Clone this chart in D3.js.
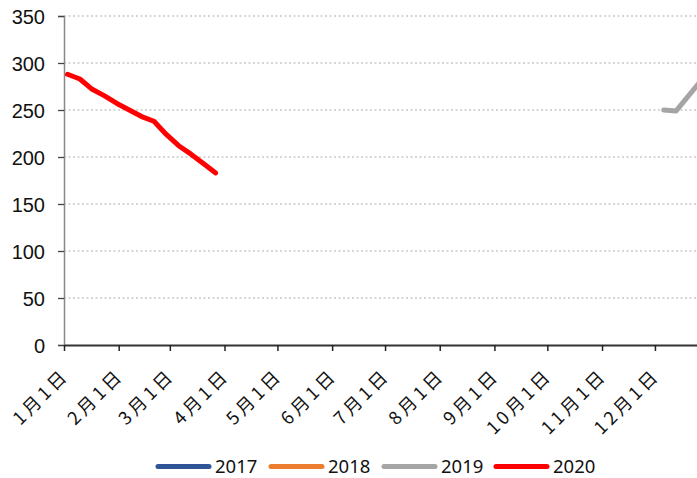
<!DOCTYPE html>
<html>
<head>
<meta charset="utf-8">
<script src="https://cdn.jsdelivr.net/npm/d3@7"></script>
<style>
  body { margin: 0; background: #fff; }
  svg { display: block; font-family: "Liberation Sans", Arial, sans-serif; }
</style>
</head>
<body>
<svg id="chart" width="697" height="478"></svg>
<script>
// series names and colours (legend order)
const years = ["2017", "2018", "2019", "2020"];
const colors = ["#2F5597", "#ED7D31", "#A5A5A5", "#FF0000"];

// weekly readings plotted on a common Jan-Dec axis (month/day only)
const dates2017 = [];
const values2017 = [];
const dates2018 = [];
const values2018 = [];
const dates2019 = ["12-06", "12-13", "12-20", "12-27"];
const values2019 = [250, 249, 265, 281];
const dates2020 = ["01-03", "01-10", "01-17", "01-24", "01-31", "02-07", "02-14",
                   "02-21", "02-28", "03-06", "03-13", "03-20", "03-27"];
const values2020 = [288, 283, 272, 265, 257, 250, 243, 238, 224, 212, 203, 193, 183];

const yTicks = [0, 50, 100, 150, 200, 250, 300, 350];
const monthLabels = ["1月1日", "2月1日", "3月1日", "4月1日", "5月1日", "6月1日",
                     "7月1日", "8月1日", "9月1日", "10月1日", "11月1日", "12月1日"];

const seriesDates = [dates2017, dates2018, dates2019, dates2020];
const seriesValues = [values2017, values2018, values2019, values2020];

const svg = d3.select("#chart");
const parse = d3.timeParse("%Y-%m-%d");
const plotLeft = 64, plotTop = 16, plotBottom = 345;

// axis runs a full (leap) year; it is wider than the window so the end is cut off
const x = d3.scaleTime()
  .domain([parse("2020-01-01"), parse("2021-01-01")])
  .range([plotLeft, plotLeft + 366 * 1.764]);

const y = d3.scaleLinear()
  .domain([0, 350])
  .range([plotBottom, plotTop]);

// dotted gridlines
svg.append("g")
  .selectAll("line")
  .data(yTicks.filter(d => d > 0))
  .enter()
  .append("line")
  .attr("x1", plotLeft)
  .attr("x2", 697)
  .attr("y1", d => y(d))
  .attr("y2", d => y(d))
  .attr("stroke", "#c9c9c9")
  .attr("stroke-width", 1.5)
  .attr("stroke-dasharray", "2 2.5");

// y axis
const yAxis = svg.append("g")
  .attr("transform", `translate(${plotLeft},0)`)
  .call(d3.axisLeft(y).tickValues(yTicks).tickSize(6).tickPadding(13));
yAxis.select(".domain").attr("stroke", "#888").attr("stroke-width", 1.5);
yAxis.selectAll(".tick line").attr("stroke", "#444").attr("stroke-width", 1.3);
yAxis.selectAll("text")
  .attr("fill", "#111")
  .style("font-size", "20px")
  .attr("dy", "0.35em");

// x axis with month ticks
const monthDates = d3.range(12).map(i => new Date(2020, i, 1));
const xAxis = svg.append("g")
  .attr("transform", `translate(0,${plotBottom})`)
  .call(d3.axisBottom(x).tickValues(monthDates).tickSize(6).tickSizeOuter(0)
    .tickFormat((d, i) => monthLabels[i]));
xAxis.select(".domain").attr("stroke", "#333").attr("stroke-width", 1.8);
xAxis.selectAll(".tick line").attr("stroke", "#222").attr("stroke-width", 1.5);
xAxis.selectAll("text")
  .attr("fill", "#111")
  .style("font-family", "'Noto Sans CJK SC', sans-serif")
  .style("font-size", "18px")
  .style("letter-spacing", "3.5px")
  .attr("text-anchor", "end")
  .attr("transform", "translate(1,27) rotate(-45)")
  .attr("dy", "0.35em")
  .attr("y", 0);

// lines
const line = d3.line()
  .x(d => x(d.date))
  .y(d => y(d.value));

years.forEach((yr, k) => {
  const pts = seriesDates[k].map((md, i) => ({
    date: parse("2020-" + md),
    value: seriesValues[k][i]
  }));
  if (!pts.length) return;
  svg.append("path")
    .datum(pts)
    .attr("fill", "none")
    .attr("stroke", colors[k])
    .attr("stroke-width", 5)
    .attr("stroke-linejoin", "round")
    .attr("stroke-linecap", "round")
    .attr("d", line);
});

// legend
const legendX = [156, 269, 382, 494];
const legend = svg.append("g");
years.forEach((yr, k) => {
  legend.append("line")
    .attr("x1", legendX[k] + 2)
    .attr("x2", legendX[k] + 53)
    .attr("y1", 466.5)
    .attr("y2", 466.5)
    .attr("stroke", colors[k])
    .attr("stroke-width", 5)
    .attr("stroke-linecap", "round");
  legend.append("text")
    .attr("x", legendX[k] + 59)
    .attr("y", 473)
    .attr("fill", "#111")
    .style("font-family", "'Noto Sans', sans-serif")
    .style("font-size", "18.5px")
    .text(yr);
});
</script>
</body>
</html>
